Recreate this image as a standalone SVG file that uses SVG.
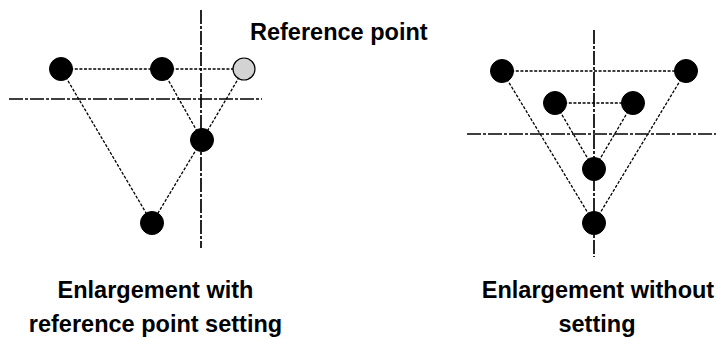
<svg xmlns="http://www.w3.org/2000/svg" width="716" height="340" viewBox="0 0 716 340">
  <style>
    .axis { stroke: #000; stroke-width: 1.7; stroke-dasharray: 14 2 3 2; fill: none; }
    .conn { stroke: #000; stroke-width: 1.3; stroke-dasharray: 3 1.6; fill: none; }
    .pt { fill: #000; stroke: #000; stroke-width: 1; }
    .ref { fill: #d3d3d3; stroke: #000; stroke-width: 1.2; }
    .lbl { font-family: "Liberation Sans", Arial, sans-serif; font-weight: bold; font-size: 23.5px; fill: #000; }
  </style>
  <rect width="716" height="340" fill="#fff"/>

  <g id="axes">
    <line class="axis" x1="201" y1="10" x2="201" y2="248"/>
    <line class="axis" x1="9" y1="99" x2="262" y2="99"/>
    <line class="axis" x1="594" y1="30" x2="594" y2="257"/>
    <line class="axis" x1="467" y1="134" x2="716" y2="134"/>
  </g>

  <g id="connectors">
    <line class="conn" x1="61" y1="69" x2="162" y2="69"/>
    <line class="conn" x1="162" y1="69" x2="244" y2="69"/>
    <line class="conn" x1="61" y1="69" x2="152" y2="223"/>
    <line class="conn" x1="162" y1="69" x2="202" y2="140"/>
    <line class="conn" x1="244" y1="69" x2="202" y2="140"/>
    <line class="conn" x1="202" y1="140" x2="152" y2="223"/>

    <line class="conn" x1="502" y1="71" x2="686" y2="71"/>
    <line class="conn" x1="555" y1="103" x2="633" y2="103"/>
    <line class="conn" x1="502" y1="71" x2="594" y2="223"/>
    <line class="conn" x1="686" y1="71" x2="594" y2="223"/>
    <line class="conn" x1="555" y1="103" x2="594" y2="169"/>
    <line class="conn" x1="633" y1="103" x2="594" y2="169"/>
  </g>

  <g id="left-A"><circle class="pt" cx="61" cy="69" r="11.5"/></g>
  <g id="left-B"><circle class="pt" cx="162" cy="69" r="11.5"/></g>
  <g id="left-ref"><circle class="ref" cx="244" cy="69" r="11"/></g>
  <g id="left-C"><circle class="pt" cx="202" cy="140" r="11.5"/></g>
  <g id="left-D"><circle class="pt" cx="152" cy="223" r="11.5"/></g>

  <g id="right-P"><circle class="pt" cx="502" cy="71" r="11.5"/></g>
  <g id="right-Q"><circle class="pt" cx="686" cy="71" r="11.5"/></g>
  <g id="right-R"><circle class="pt" cx="555" cy="103" r="11.5"/></g>
  <g id="right-S"><circle class="pt" cx="633" cy="103" r="11.5"/></g>
  <g id="right-T"><circle class="pt" cx="594" cy="169" r="11.5"/></g>
  <g id="right-U"><circle class="pt" cx="594" cy="223" r="11.5"/></g>

  <g id="label-ref">
    <text class="lbl" x="250" y="40">Reference point</text>
  </g>
  <g id="label-left">
    <text class="lbl" x="155.5" y="298" text-anchor="middle">Enlargement with</text>
    <text class="lbl" x="155.5" y="332" text-anchor="middle">reference point setting</text>
  </g>
  <g id="label-right">
    <text class="lbl" x="598" y="298" text-anchor="middle">Enlargement without</text>
    <text class="lbl" x="597" y="332" text-anchor="middle">setting</text>
  </g>
</svg>
